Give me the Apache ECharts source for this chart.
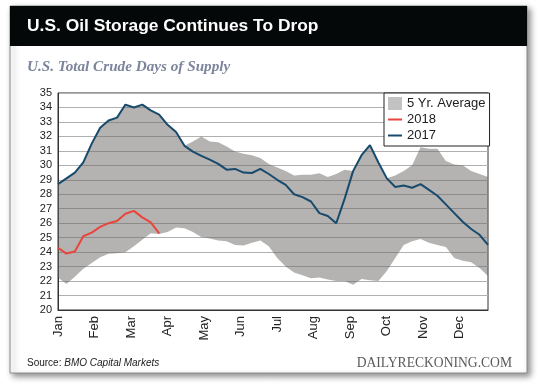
<!DOCTYPE html>
<html>
<head>
<meta charset="utf-8">
<script src="https://cdn.jsdelivr.net/npm/echarts@6/dist/echarts.min.js"></script>
<style>
html,body{margin:0;padding:0;background:#fff;}
#chart{width:540px;height:386px;}
</style>
</head>
<body>
<div id="chart"></div>
<script>
// ---- data (weekly, week index 0..51) ----
var months = ['Jan','Feb','Mar','Apr','May','Jun','Jul','Aug','Sep','Oct','Nov','Dec'];
var yTicks = [20,21,22,23,24,25,26,27,28,29,30,31,32,33,34,35];

var year2017 = [28.7, 29.1, 29.5, 30.2, 31.5, 32.6, 33.1, 33.3, 34.2, 34.0, 34.2, 33.8, 33.5,
  32.8, 32.3, 31.35, 30.95, 30.65, 30.4, 30.1, 29.7, 29.75, 29.5, 29.47, 29.75, 29.4,
  29.0, 28.65, 28.0, 27.8, 27.5, 26.7, 26.5, 26.0, 27.7, 29.6, 30.7, 31.4, 30.2,
  29.1, 28.5, 28.6, 28.45, 28.7, 28.3, 27.9, 27.3, 26.7, 26.1, 25.6, 25.2, 24.5];

var year2018 = [24.3, 23.9, 24.05, 25.1, 25.35, 25.75, 26.0, 26.15, 26.65, 26.85, 26.4, 26.05, 25.3];

var avgUpper = [28.7, 29.1, 29.5, 30.2, 31.5, 32.6, 33.1, 33.3, 34.2, 34.0, 34.2, 33.8, 33.5, 32.8, 32.3,
  31.35, 31.65, 32.0, 31.65, 31.6, 31.3, 30.95, 30.8, 30.7, 30.5,
  30.1, 29.85, 29.6, 29.3, 29.35, 29.35, 29.45, 29.2, 29.4, 29.7,
  29.6, 30.7, 31.4, 30.2, 29.1, 29.3, 29.6, 30.0, 31.25, 31.15,
  31.15, 30.3, 30.05, 30.0, 29.6, 29.4, 29.2];

var avgLower = [22.25, 21.8, 22.3, 22.85, 23.25, 23.65, 23.88, 23.93, 24.0, 24.4, 24.85, 25.3, 25.25,
  25.4, 25.7, 25.65, 25.4, 25.05, 24.95, 24.8, 24.75, 24.5, 24.45, 24.65, 24.8, 24.4,
  23.6, 23.0, 22.6, 22.4, 22.2, 22.25, 22.1, 22.0, 22.0, 21.75, 22.15, 22.05, 22.0,
  22.7, 23.6, 24.5, 24.75, 24.9, 24.65, 24.5, 24.35, 23.6, 23.4, 23.3, 22.9, 22.35];

// ---- build library structures ----
var weeks = year2017.map(function (v, i) { return 'W' + (i + 1); });
var WEEKS_PER_MONTH = 52 / 12;
var monthPos = months.map(function (m, i) { return i * WEEKS_PER_MONTH; });
var bandDiff = avgUpper.map(function (v, i) { return +(v - avgLower[i]).toFixed(3); });

var SANS = '"Liberation Sans", Arial, Helvetica, sans-serif';
var SERIF = '"Liberation Serif", "DejaVu Serif", serif';

var chart = echarts.init(document.getElementById('chart'), null, {renderer: 'canvas'});
chart.setOption({
  animation: false,
  backgroundColor: '#ffffff',
  textStyle: {fontFamily: SANS},
  graphic: [
    {type: 'rect', z: -10, shape: {x: 10, y: 6, width: 517, height: 367},
     style: {fill: '#ffffff', stroke: '#8c8c8c', lineWidth: 1,
             shadowBlur: 6, shadowOffsetX: 3, shadowOffsetY: 3, shadowColor: 'rgba(0,0,0,0.45)'}},
    {type: 'rect', z: -9, shape: {x: 10, y: 6, width: 517, height: 40}, style: {fill: '#050808'}},
    {type: 'text', z: -8, x: 27, y: 26,
     style: {text: 'U.S. Oil Storage Continues To Drop', fill: '#ffffff',
             font: 'bold 17.4px ' + SANS, verticalAlign: 'middle'}},
    {type: 'text', z: -8, x: 27, y: 67,
     style: {text: 'U.S. Total Crude Days of Supply', fill: '#7c859c',
             font: 'italic bold 15.2px ' + SERIF, verticalAlign: 'middle'}},
    {type: 'text', z: -8, x: 27, y: 363,
     style: {text: '{a|Source: }{b|BMO Capital Markets}', fill: '#222',
             font: '10px ' + SANS, verticalAlign: 'middle',
             rich: {a: {fontSize: 10, fontFamily: SANS, fill: '#222'},
                    b: {fontSize: 10, fontFamily: SANS, fontStyle: 'italic', fill: '#222'}}}},
    {type: 'text', z: -8, x: 512, y: 363,
     style: {text: 'DAILYRECKONING.COM', fill: '#5a5a5a', font: '13.6px ' + SERIF,
             align: 'right', verticalAlign: 'middle'}}
  ],
  grid: {left: 58, right: 52, top: 93, bottom: 76, show: true,
         borderColor: '#333', borderWidth: 1, backgroundColor: 'transparent'},
  legend: {
    orient: 'vertical', left: 384, top: 93,
    backgroundColor: '#ffffff', borderColor: '#222', borderWidth: 1,
    padding: [4, 4, 4, 4], itemGap: 3, itemWidth: 14, itemHeight: 13,
    textStyle: {fontSize: 13, color: '#222', fontFamily: SANS},
    data: [
      {name: '5 Yr. Average', icon: 'rect', itemStyle: {color: '#c2c2c2', borderWidth: 0}},
      {name: '2018', icon: 'path://M0,0H14V2H0Z', itemStyle: {color: '#e8453c'}},
      {name: '2017', icon: 'path://M0,0H14V2H0Z', itemStyle: {color: '#174a6c'}}
    ]
  },
  xAxis: [
    {type: 'category', data: weeks, boundaryGap: false,
     axisLine: {show: true, onZero: false, lineStyle: {color: '#333', width: 1}},
     axisTick: {show: false}, axisLabel: {show: false}, splitLine: {show: false}},
    {type: 'value', min: 0, max: weeks.length - 1, position: 'bottom',
     axisLine: {show: false}, axisTick: {show: false}, splitLine: {show: false},
     axisLabel: {
       customValues: monthPos, rotate: 90, margin: 6, fontSize: 13, color: '#222', fontFamily: SANS,
       showMinLabel: true, showMaxLabel: true,
       formatter: function (v) {
         var idx = Math.round(v / WEEKS_PER_MONTH);
         return months[idx] || '';
       }
     }}
  ],
  yAxis: {
    type: 'value', min: yTicks[0], max: yTicks[yTicks.length - 1], interval: 1,
    axisLine: {show: true, lineStyle: {color: '#333', width: 1}},
    axisTick: {show: false},
    splitLine: {show: true, lineStyle: {color: '#b0b0b0', width: 1}},
    axisLabel: {fontSize: 11, color: '#222', margin: 6, fontFamily: SANS}
  },
  series: [
    {name: 'avgLower', type: 'line', stack: 'band', data: avgLower, xAxisIndex: 0,
     showSymbol: false, symbol: 'none', lineStyle: {opacity: 0, width: 0}, silent: true},
    {name: '5 Yr. Average', type: 'line', stack: 'band', data: bandDiff, xAxisIndex: 0,
     showSymbol: false, symbol: 'none', lineStyle: {opacity: 0, width: 0},
     itemStyle: {color: '#c2c2c2'},
     areaStyle: {color: 'rgba(105,104,101,0.5)', opacity: 1}},
    {name: '2018', type: 'line', data: year2018, xAxisIndex: 0, showSymbol: false, symbol: 'none',
     itemStyle: {color: '#e8453c'}, lineStyle: {color: '#e8453c', width: 2}},
    {name: '2017', type: 'line', data: year2017, xAxisIndex: 0, showSymbol: false, symbol: 'none',
     itemStyle: {color: '#174a6c'}, lineStyle: {color: '#174a6c', width: 2}}
  ]
});
</script>
</body>
</html>
